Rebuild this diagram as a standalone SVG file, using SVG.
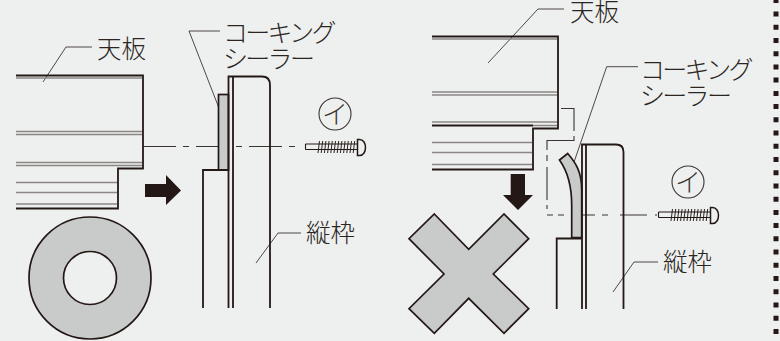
<svg xmlns="http://www.w3.org/2000/svg" xmlns:xlink="http://www.w3.org/1999/xlink" width="780" height="341" viewBox="0 0 780 341">
<style>
.k{fill:none;stroke:#231815;stroke-width:1.5}
.b{fill:none;stroke:#231815;stroke-width:1.8}
.g{fill:none;stroke:#8a8685;stroke-width:1.3}
.l{fill:none;stroke:#3a3533;stroke-width:.9}
.s{fill:#c9caca;stroke:#231815;stroke-width:1.7}
.a{fill:#231815;stroke:none}
.t{font-family:"Noto Sans CJK JP","Noto Sans",sans-serif;font-size:24.5px;fill:#2a2523;font-weight:300}
.w{font-size:25px;letter-spacing:-2.700px}
.i{font-family:"Noto Sans CJK JP",sans-serif;font-size:26px;fill:#3a3533;font-weight:300}
.d{fill:none;stroke:#3a3533;stroke-width:1.1}
.th{fill:none;stroke:#231815;stroke-width:.95}
.sh{fill:none;stroke:#231815;stroke-width:1.1}
</style>
<defs>
<g id="screw">
<circle cx="335" cy="114" r="16" fill="none" stroke="#3a3533" stroke-width="1.1"/>
<text class="i" x="335" y="123.500" text-anchor="middle">イ</text>
<path class="sh" d="M305.500 144H357M305.500 149.500H357M305.500 144V149.500"/>
<path class="k" d="M357.500 139.500V155.500H359.500C367.500 155.500 367.500 139.500 359.500 139.500Z"/>
<path class="th" d="M318 153L319.500 141M321.200 153L322.700 141M324.400 153L325.900 141M327.600 153L329.100 141M330.800 153L332.300 141M334 153L335.500 141M337.200 153L338.700 141M340.400 153L341.900 141M343.600 153L345.100 141M346.800 153L348.300 141M350 153L351.500 141M353.200 153L354.700 141"/>
</g>
</defs>
<rect width="780" height="341" fill="#eef0ef"/>
<g id="edge-dots" class="a">
<path d="M773.500 -2h5v5h-5zM773.500 11.500h5v5h-5zM773.500 24.700h5v5h-5zM773.500 38h5v5h-5zM773.500 51.200h5v5h-5zM773.500 64.400h5v5h-5zM773.500 77.600h5v5h-5zM773.500 90.900h5v5h-5zM773.500 104.100h5v5h-5zM773.500 117.300h5v5h-5zM773.500 130.500h5v5h-5zM773.500 143.800h5v5h-5zM773.500 157h5v5h-5zM773.500 170.200h5v5h-5zM773.500 183.400h5v5h-5zM773.500 196.700h5v5h-5zM773.500 209.900h5v5h-5zM773.500 223.100h5v5h-5zM773.500 236.300h5v5h-5zM773.500 249.600h5v5h-5zM773.500 262.800h5v5h-5zM773.500 276h5v5h-5zM773.500 289.200h5v5h-5zM773.500 302.500h5v5h-5zM773.500 315.700h5v5h-5zM773.500 328.900h5v5h-5z"/>
</g>
<g id="connectors">
<path class="d" d="M143 146.500H300" stroke-dasharray="33 7 6 7"/>
<path class="d" d="M561 108.500H574V131M574 136V140.500H547V150M547 155V161M547 167V200M547 205V209M547 215H553M558 215H564M571 215H595M602 215H608M620 215H647M655 215H657"/>
<path class="l" d="M43 82L66 47H92"/>
<path class="l" d="M224 121L189 31H220"/>
<path class="l" d="M256 263L278 233H301"/>
<path class="l" d="M488 63L538 9H564"/>
<path class="l" d="M572 168L606.700 66.700H638"/>
<path class="l" d="M613 292L634 262H658"/>
</g>
<g id="left-panel">
<path class="b" d="M16 75.500H143V168.500H118V208.500H16"/>
<path class="g" d="M16 78H142M16 131.500H142M16 134.500H142M16 162.500H142M16 165.500H142M16 182.500H117M16 192.500H117M16 204H117"/>
</g>
<g id="left-arrow"><path class="a" d="M145 184H166V175L181 190.500L166 205V197H145Z"/></g>
<g id="left-washer"><path class="s" fill-rule="evenodd" d="M29 278a61 61 0 1 0 122 0a61 61 0 1 0-122 0ZM63.500 278a26.500 26.500 0 1 0 53 0a26.500 26.500 0 1 0-53 0Z"/></g>
<g id="left-sealer"><rect class="s" x="218.500" y="94.500" width="10" height="75.500"/></g>
<g id="left-frame">
<path class="b" d="M203 308V170H228.500M228.500 308V76.500H262Q270 76.500 270 85V308M233 76.500V308"/>
</g>
<use xlink:href="#screw" href="#screw"/>
<g id="right-panel">
<path class="b" d="M432 36.500H558V128.500H533V169.500H432M432 125.500H533"/>
<path class="g" d="M432 39H557M432 92H557M432 95H557M432 122H557M533 125.500H557M432 142.500H532M432 152.500H532M432 164.500H532"/>
</g>
<g id="right-arrow"><path class="a" d="M510.700 174H525V195H533L518 210L503 195H510.700Z"/></g>
<g id="right-cross"><path class="s" d="M434.300 214L468.700 249.300L504 214L528.700 238.700L493.300 274L528.700 308.700L504 333.300L468.700 298.300L434.300 333.300L409 308.700L444 274L409 238.700Z"/></g>
<g id="right-sealer"><path class="s" d="M559.500 160L567.700 153.500C576 163 581.700 172 581.700 190V237.500H571.700V205C571.700 185 568 172 559.500 160Z"/></g>
<g id="right-frame">
<path class="b" d="M556.700 309V238.500H582M582 309V144.500H616Q623.500 144.500 623.500 152V309M586 144.500V309"/>
</g>
<use xlink:href="#screw" href="#screw" transform="translate(353 68)"/>
<g id="labels">
<text class="t" x="97" y="58">天板</text>
<text class="t w" x="223" y="41.500">コーキング<tspan x="223" dy="26.500">シーラー</tspan></text>
<text class="t" x="306" y="242">縦枠</text>
<text class="t" x="570" y="20.500">天板</text>
<text class="t w" x="640" y="78.500">コーキング<tspan x="640" dy="26.500">シーラー</tspan></text>
<text class="t" x="663" y="271">縦枠</text>
</g>
</svg>
